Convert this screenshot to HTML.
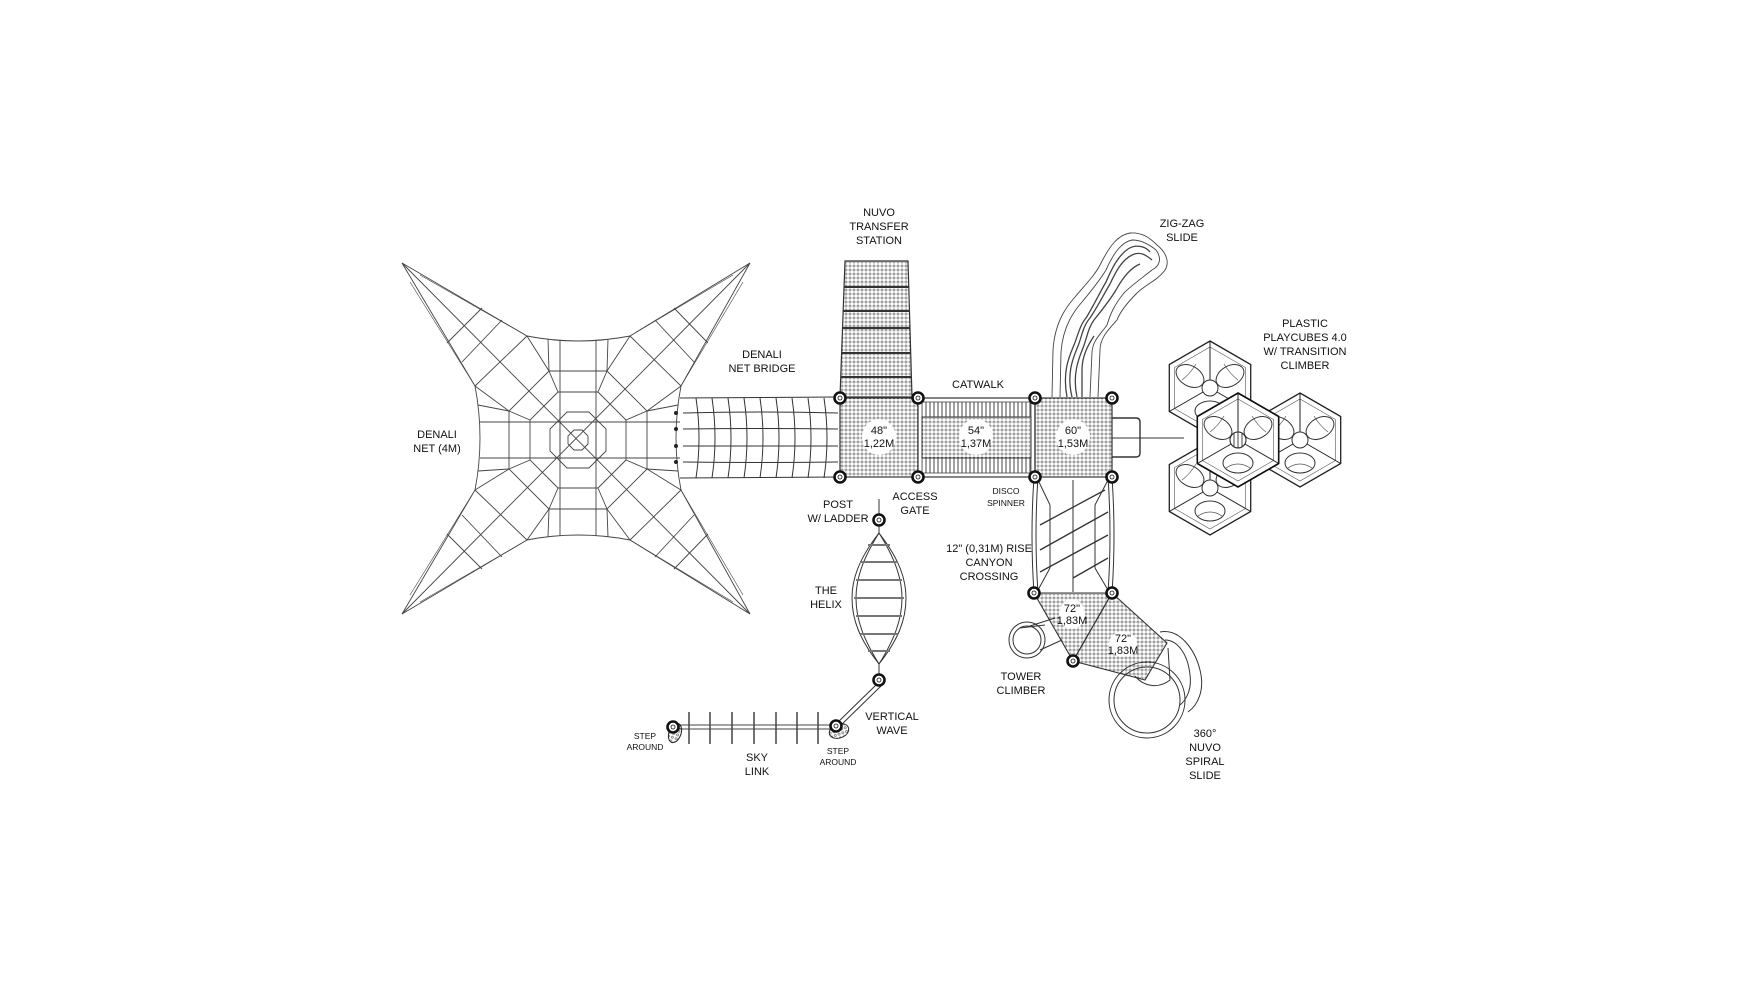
<!DOCTYPE html>
<html><head><meta charset="utf-8"><style>
html,body{margin:0;padding:0;background:#fff}
svg{display:block}
text{font-family:"Liberation Sans",sans-serif;fill:#111;text-anchor:middle}
.l{font-size:11px}.s{font-size:8.5px}
</style></head><body>
<svg width="1760" height="990" viewBox="0 0 1760 990" xmlns="http://www.w3.org/2000/svg">
<defs>
<pattern id="perf" width="4" height="4" patternUnits="userSpaceOnUse"><circle cx="2" cy="2" r="1.1" fill="none" stroke="#555" stroke-width="0.6"/></pattern>
<pattern id="vb" width="4" height="10" patternUnits="userSpaceOnUse"><line x1="2" y1="0" x2="2" y2="10" stroke="#444" stroke-width="1"/></pattern>
<g id="post"><circle r="5.5" fill="#fff" stroke="#111" stroke-width="2.6"/><circle r="2" fill="none" stroke="#111" stroke-width="0.8"/></g>
<g id="hex">
<polygon points="0,-47 40.7,-23.5 40.7,23.5 0,47 -40.7,23.5 -40.7,-23.5" fill="#fff" stroke="#222" stroke-width="1.3"/>
<polygon points="0,-41 35.5,-20.5 35.5,20.5 0,41 -35.5,20.5 -35.5,-20.5" fill="none" stroke="#555" stroke-width="0.6"/>
<line x1="0" y1="0" x2="0" y2="-47" stroke="#222"/><line x1="0" y1="0" x2="40.7" y2="23.5" stroke="#222"/><line x1="0" y1="0" x2="-40.7" y2="23.5" stroke="#222"/>
<ellipse cx="-20" cy="-12" rx="10" ry="15" transform="rotate(-60 -20 -12)" fill="none" stroke="#333"/>
<ellipse cx="20" cy="-12" rx="10" ry="15" transform="rotate(60 20 -12)" fill="none" stroke="#333"/>
<ellipse cx="0" cy="23" rx="15" ry="10" fill="none" stroke="#333"/>
<path d="M-28,-8 Q-20,-14 -14,-24 M28,-8 Q20,-14 14,-24 M-12,28 Q0,20 12,28" fill="none" stroke="#555" stroke-width="0.7"/>
<circle cx="0" cy="0" r="8" fill="#fff" stroke="#333"/>
</g>
</defs>

<!-- DENALI NET -->
<g stroke="#444" stroke-width="0.9" fill="none">
<path d="M402,263 L527,336 M402,263 L475,386 M750,263 L630,336 M750,263 L681,386 M402,614 L527,540 M402,614 L475,490 M750,614 L630,540 M750,614 L681,490"/>
<path d="M527,336 Q578,346 630,336 M475,386 Q485,438 475,490 M527,540 Q578,530 630,540 M681,386 Q671,438 681,490"/>
<path d="M475,386 L527,336 M630,336 L681,386 M475,490 L527,540 M630,540 L681,490"/>
<path d="M402,263 L750,614 M750,263 L402,614"/>
<path d="M502,320 L462,362 M482,308 L447,343 M655,320 L694,362 M674,308 L708,343 M502,557 L462,515 M482,569 L447,534 M655,557 L694,515 M674,569 L708,534"/>
<path d="M420,275 L527,336 M410,282 L475,386 M733,275 L630,336 M743,282 L681,386 M420,602 L527,540 M410,595 L475,490 M733,602 L630,540 M743,595 L681,490" stroke-width="0.6"/>
<polygon points="647,469 607,509 549,509 509,469 509,411 549,371 607,371 647,411"/>
<polygon points="626,460 598,488 558,488 530,460 530,420 558,392 598,392 626,420"/>
<polygon points="606,451 589,468 567,468 550,451 550,429 567,412 589,412 606,429"/>
<polygon points="588,444 582,450 574,450 568,444 568,436 574,430 582,430 588,436"/>
<path d="M480,422 L680,422 M480,458 L680,458 M560,340 L560,536 M596,340 L596,536"/>
<path d="M478,405 L509,411 M478,471 L509,469 M678,405 L647,411 M678,471 L647,469 M548,339 L549,371 M608,339 L607,371 M548,537 L549,509 M608,537 L607,509"/>
<path d="M527,336 L549,371 M630,336 L607,371 M527,540 L549,509 M630,540 L607,509 M475,386 L509,411 M681,386 L647,411 M475,490 L509,469 M681,490 L647,469"/>
<path d="M530,420 L509,411 M530,460 L509,469 M626,420 L647,411 M626,460 L647,469 M558,392 L549,371 M598,392 L607,371 M558,488 L549,509 M598,488 L607,509"/>
<rect x="560" y="422" width="36" height="36"/>
</g>

<!-- NET BRIDGE -->
<g stroke="#333" stroke-width="1" fill="none">
<path d="M680,398 L838,397 M680,478 L838,477"/>
<path d="M683,413 Q760,411 838,413 M683,429 Q760,428 838,429 M683,446 Q760,446 838,446 M683,462 Q760,463 838,462"/>
<path d="M696,398 Q702,438 696,478 M712,398 Q718,438 712,478 M728,398 Q734,438 728,478 M744,398 Q750,438 744,478 M760,398 Q766,438 760,478 M776,398 Q782,438 776,478 M792,398 Q798,438 792,478 M808,398 Q814,438 808,478 M824,398 Q830,438 824,478"/>
</g>
<g fill="#222">
<circle cx="676" cy="413" r="2"/><circle cx="676" cy="429" r="2"/><circle cx="676" cy="446" r="2"/><circle cx="676" cy="462" r="2"/>
</g>

<!-- TRANSFER STATION -->
<polygon points="845,261 908,261 912,397 840,397" fill="url(#perf)" stroke="#333" stroke-width="1.2"/>
<g stroke="#333" stroke-width="2"><line x1="844" y1="287" x2="909" y2="287"/><line x1="843" y1="311" x2="910" y2="311"/><line x1="843" y1="328" x2="910" y2="328"/><line x1="842" y1="353" x2="911" y2="353"/><line x1="841" y1="377" x2="911" y2="377"/></g>

<!-- PLATFORMS -->
<rect x="840" y="398" width="78" height="79" fill="url(#perf)" stroke="#333" stroke-width="1.2"/>
<rect x="918" y="398" width="117" height="79" fill="#fff" stroke="#333" stroke-width="1.2"/>
<rect x="922" y="402" width="109" height="15" fill="url(#vb)" stroke="#444" stroke-width="0.8"/>
<rect x="922" y="458" width="109" height="15" fill="url(#vb)" stroke="#444" stroke-width="0.8"/>
<rect x="922" y="417" width="109" height="41" fill="url(#perf)" stroke="#333"/>
<rect x="1035" y="398" width="77" height="79" fill="url(#perf)" stroke="#333" stroke-width="1.2"/>
<ellipse cx="879" cy="437" rx="17" ry="18" fill="#fff"/>
<ellipse cx="976" cy="437" rx="17" ry="18" fill="#fff"/>
<ellipse cx="1073" cy="437" rx="17" ry="18" fill="#fff"/>
<path d="M1112,418 L1136,418 Q1140,418 1140,422 L1140,453 Q1140,457 1136,457 L1112,457" fill="none" stroke="#333" stroke-width="1.4"/>
<line x1="1112" y1="438" x2="1184" y2="438" stroke="#333"/>

<!-- ZIG ZAG SLIDE -->
<g fill="none" stroke="#444" stroke-width="0.9">
<path d="M1052,397 L1053,350 C1055,320 1068,305 1075,297 C1085,285 1095,275 1100,265 C1110,245 1118,235 1130,233 C1142,232 1150,238 1157,245 C1166,252 1170,262 1165,270 C1158,280 1145,285 1137,293 C1128,302 1120,312 1117,320 C1108,330 1100,338 1100,350 L1098,397"/>
<path d="M1060,397 L1061,352 C1063,325 1075,310 1082,302 C1092,290 1100,280 1106,270 C1114,252 1122,242 1132,240 C1142,240 1150,245 1156,250 C1162,258 1160,266 1152,270 C1142,278 1132,285 1124,293 C1114,305 1110,315 1107,325 C1100,335 1093,340 1092,352 L1090,397"/>
<path d="M1067,397 C1062,370 1070,355 1074,345 C1078,335 1080,325 1086,318 C1094,305 1100,292 1106,282 C1112,268 1118,256 1128,249 C1136,244 1145,246 1150,252" stroke-width="1.3"/>
<path d="M1072,397 C1066,372 1074,356 1078,346 C1082,336 1083,326 1090,318 C1098,306 1104,294 1110,284 C1116,271 1122,260 1132,255 C1140,251 1146,255 1152,260" stroke-width="1.3"/>
<path d="M1077,397 C1072,374 1079,358 1083,348 C1087,338 1088,328 1094,320 C1102,310 1110,300 1116,290 C1122,279 1130,268 1140,264" stroke-width="1.3"/>
<path d="M1082,397 L1082,370 C1082,356 1088,345 1094,336" stroke-width="1.3"/>
</g>

<!-- PLAYCUBES -->
<use href="#hex" x="1210" y="388"/>
<use href="#hex" x="1210" y="488"/>
<use href="#hex" x="1300" y="440"/>
<use href="#hex" x="1238" y="440"/>
<polygon points="1238,393 1278.7,416.5 1278.7,463.5 1238,487 1197.3,463.5 1197.3,416.5" fill="none" stroke="#111" stroke-width="1.6"/>
<circle cx="1238" cy="440" r="8" fill="url(#vb)" stroke="#333"/>

<!-- CANYON CROSSING -->
<g stroke="#333" stroke-width="1" fill="none">
<path d="M1034,477 Q1030,535 1034,593 M1038,477 Q1034,535 1038,593 M1112,477 Q1116,535 1112,593 M1108,477 Q1112,535 1108,593"/>
<path d="M1073,480 L1073,592 M1050,505 L1050,568 M1095,505 L1095,568"/>
<path d="M1038,480 L1050,505 M1108,480 L1095,505 M1038,590 L1050,568 M1108,590 L1095,568"/>
<path d="M1040,525 L1105,490 M1040,550 L1108,512 M1040,572 L1108,535 M1073,578 L1108,558" stroke-width="1.3"/>
</g>
<polygon points="1034,593 1112,593 1073,661" fill="url(#perf)" stroke="#333" stroke-width="1.1"/>
<polygon points="1112,593 1167,643 1145,680 1073,661" fill="url(#perf)" stroke="#333" stroke-width="1.1"/>
<ellipse cx="1072" cy="614" rx="13" ry="15" fill="#fff"/>
<ellipse cx="1123" cy="644" rx="14" ry="13" fill="#fff"/>
<g fill="none" stroke="#333" stroke-width="1">
<circle cx="1147" cy="700" r="38"/>
<circle cx="1147" cy="700" r="33"/>
<path d="M1160,632 C1180,628 1195,650 1200,670 C1205,690 1198,705 1188,712 M1165,640 C1178,640 1188,655 1190,675 C1192,690 1186,700 1180,705"/>
<path d="M1135,676 C1145,688 1160,688 1170,680 L1168,648"/>
</g>
<g fill="none" stroke="#333" stroke-width="1">
<circle cx="1027" cy="640" r="18"/><circle cx="1027" cy="640" r="14"/>
<path d="M1030,626 L1055,618 M1040,650 L1062,640 M1020,628 L1045,625"/>
</g>

<use href="#post" x="840" y="398"/><use href="#post" x="918" y="398"/><use href="#post" x="840" y="477"/><use href="#post" x="918" y="477"/>
<use href="#post" x="1035" y="398"/><use href="#post" x="1112" y="398"/><use href="#post" x="1035" y="477"/><use href="#post" x="1112" y="477"/>
<use href="#post" x="1034" y="593"/><use href="#post" x="1112" y="593"/><use href="#post" x="1073" y="661"/>

<!-- HELIX -->
<g fill="none" stroke="#333" stroke-width="1">
<line x1="879" y1="499" x2="879" y2="515"/>
<path d="M879,524 L879,533 C858,560 852,580 852,598 C852,620 860,640 879,664 C898,640 906,620 906,598 C906,580 900,560 879,533"/>
<path d="M879,533 C862,560 856,580 856,598 C856,620 864,640 879,664 C894,640 902,620 902,598 C902,580 896,560 879,533"/>
<path d="M868,545 L890,545 M860,562 L898,562 M856,580 L902,580 M854,598 L904,598 M856,616 L902,616 M860,634 L898,634 M868,651 L890,651" stroke-width="2" stroke="#777"/>
<line x1="879" y1="664" x2="879" y2="675"/>
<path d="M877,684 L835,725 M881,686 L839,727"/>
</g>
<use href="#post" x="879" y="520"/><use href="#post" x="879" y="680"/>

<!-- SKY LINK -->
<g stroke="#444" fill="none">
<line x1="676" y1="725" x2="834" y2="725"/><line x1="676" y1="729" x2="834" y2="729"/>
<path d="M689,712 V744 M710,712 V744 M732,712 V744 M754,712 V744 M776,712 V744 M797,712 V744 M818,712 V744" stroke-width="1.5"/>
</g>
<ellipse cx="675" cy="733" rx="6" ry="10" fill="url(#perf)" stroke="#222" transform="rotate(20 675 733)"/>
<ellipse cx="839" cy="731" rx="10" ry="7" fill="url(#perf)" stroke="#222" transform="rotate(-20 839 731)"/>
<use href="#post" x="673" y="727"/><use href="#post" x="836" y="726"/>

<!-- LABELS -->
<text class="l" x="879" y="216">NUVO</text><text class="l" x="879" y="230">TRANSFER</text><text class="l" x="879" y="244">STATION</text>
<text class="l" x="762" y="358">DENALI</text><text class="l" x="762" y="372">NET BRIDGE</text>
<text class="l" x="437" y="438">DENALI</text><text class="l" x="437" y="452">NET (4M)</text>
<text class="l" x="978" y="388">CATWALK</text>
<text class="l" x="879" y="434">48"</text><text class="l" x="879" y="447">1,22M</text>
<text class="l" x="976" y="434">54"</text><text class="l" x="976" y="447">1,37M</text>
<text class="l" x="1073" y="434">60"</text><text class="l" x="1073" y="447">1,53M</text>
<text class="l" x="1182" y="227">ZIG-ZAG</text><text class="l" x="1182" y="241">SLIDE</text>
<text class="l" x="1305" y="327">PLASTIC</text><text class="l" x="1305" y="341">PLAYCUBES 4.0</text><text class="l" x="1305" y="355">W/ TRANSITION</text><text class="l" x="1305" y="369">CLIMBER</text>
<text class="l" x="838" y="508">POST</text><text class="l" x="838" y="522">W/ LADDER</text>
<text class="l" x="915" y="500">ACCESS</text><text class="l" x="915" y="514">GATE</text>
<text class="s" x="1006" y="494">DISCO</text><text class="s" x="1006" y="506">SPINNER</text>
<text class="l" x="989" y="552">12" (0,31M) RISE</text><text class="l" x="989" y="566">CANYON</text><text class="l" x="989" y="580">CROSSING</text>
<text class="l" x="826" y="594">THE</text><text class="l" x="826" y="608">HELIX</text>
<text class="l" x="1021" y="680">TOWER</text><text class="l" x="1021" y="694">CLIMBER</text>
<text class="l" x="1072" y="612">72"</text><text class="l" x="1072" y="624">1,83M</text>
<text class="l" x="1123" y="642">72"</text><text class="l" x="1123" y="654">1,83M</text>
<text class="l" x="892" y="720">VERTICAL</text><text class="l" x="892" y="734">WAVE</text>
<text class="s" x="645" y="739">STEP</text><text class="s" x="645" y="750">AROUND</text>
<text class="s" x="838" y="754">STEP</text><text class="s" x="838" y="765">AROUND</text>
<text class="l" x="757" y="761">SKY</text><text class="l" x="757" y="775">LINK</text>
<text class="l" x="1205" y="737">360°</text><text class="l" x="1205" y="751">NUVO</text><text class="l" x="1205" y="765">SPIRAL</text><text class="l" x="1205" y="779">SLIDE</text>
</svg>
</body></html>
